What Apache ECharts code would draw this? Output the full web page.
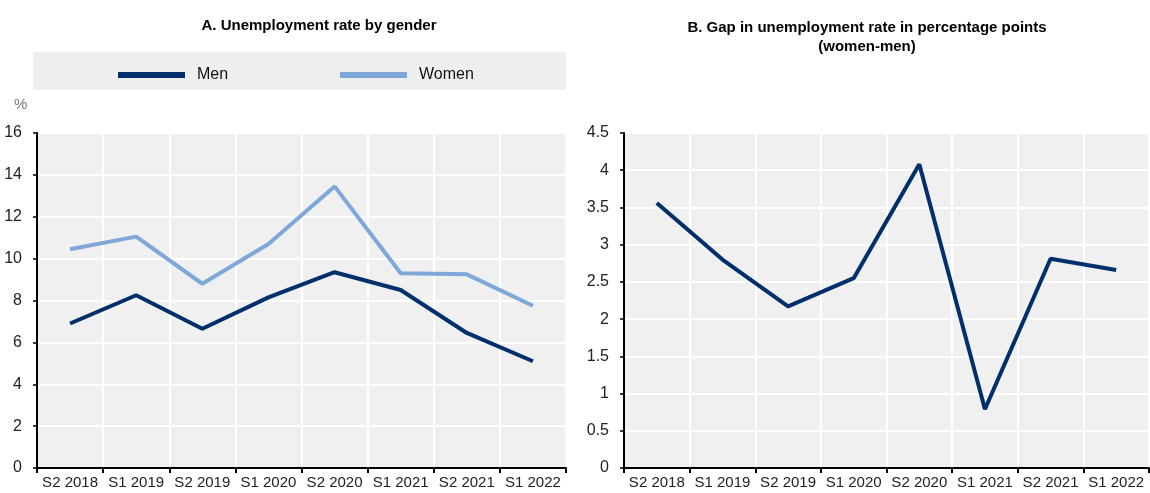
<!DOCTYPE html>
<html><head><meta charset="utf-8">
<script src="https://cdn.jsdelivr.net/npm/echarts@6/dist/echarts.min.js"></script>
<style>html,body{margin:0;padding:0;background:#fff}#c{width:1150px;height:493px}</style>
</head><body><div id="c"></div>
<script>
const categories = ['S2 2018','S1 2019','S2 2019','S1 2020','S2 2020','S1 2021','S2 2021','S1 2022'];
const men = [6.9, 8.25, 6.65, 8.15, 9.35, 8.5, 6.45, 5.1];
const women = [10.45, 11.05, 8.8, 10.7, 13.45, 9.3, 9.25, 7.75];
const gap = [3.56, 2.8, 2.17, 2.55, 4.08, 0.79, 2.81, 2.66];
const leftTicks = [0, 16, 2];
const rightTicks = [0, 4.5, 0.5];

const FONT = '"Liberation Sans Narrow","Arial Narrow","Liberation Sans",sans-serif';
const DARK = '#002F6C', LIGHT = '#7FA8D9';

function xAxis(gi){
  return {type:'category', gridIndex:gi, data:categories, boundaryGap:true,
    axisLine:{lineStyle:{color:'#000',width:2}},
    axisTick:{show:true,length:5,interval:0,lineStyle:{color:'#000',width:2}},
    axisLabel:{interval:0,margin:7,color:'#222',fontFamily:FONT,fontSize:15},
    splitLine:{show:true,interval:0,lineStyle:{color:'#fff',width:2}}};
}
function yAxis(gi,t){
  return {type:'value', gridIndex:gi, min:t[0], max:t[1], interval:t[2],
    axisLine:{show:true,lineStyle:{color:'#000',width:2}},
    axisTick:{show:true,length:4,lineStyle:{color:'#000',width:1.5}},
    axisLabel:{margin:15,color:'#222',fontFamily:FONT,fontSize:16},
    splitLine:{show:true,lineStyle:{color:'#fff',width:2}}};
}
const chart = echarts.init(document.getElementById('c'), null, {renderer:'canvas'});
chart.setOption({
  animation:false,
  textStyle:{fontFamily:FONT},
  title:[
    {text:'A. Unemployment rate by gender', left:314, top:13, textAlign:'center',
     textStyle:{fontFamily:FONT,fontSize:15,fontWeight:'bold',color:'#000'}},
    {text:'B. Gap in unemployment rate in percentage points\n(women-men)', left:862, top:13, textAlign:'center',
     textStyle:{fontFamily:FONT,fontSize:15,fontWeight:'bold',color:'#000',lineHeight:19}}
  ],
  graphic:[
    {type:'rect', shape:{x:33,y:52,width:533,height:38}, style:{fill:'#efefef'}, silent:true, z:-1},
    {type:'text', left:14, top:97, style:{text:'%', fill:'#777', font:'15px '+FONT}}
  ],
  legend:[
    {data:['Men'], left:113, top:62, itemWidth:67, itemHeight:6, icon:'rect', itemGap:0,
     textStyle:{fontFamily:FONT,fontSize:16,color:'#111',padding:[0,0,0,7]}},
    {data:['Women'], left:335, top:62, itemWidth:67, itemHeight:6, icon:'rect',
     textStyle:{fontFamily:FONT,fontSize:16,color:'#111',padding:[0,0,0,7]}}
  ],
  grid:[
    {left:37, right:584, top:133, bottom:25, show:true, backgroundColor:'#f0f0f0', borderWidth:0},
    {left:624, right:1, top:133, bottom:25, show:true, backgroundColor:'#f0f0f0', borderWidth:0}
  ],
  xAxis:[xAxis(0), xAxis(1)],
  yAxis:[yAxis(0,leftTicks), yAxis(1,rightTicks)],
  series:[
    {name:'Men', type:'line', xAxisIndex:0, yAxisIndex:0, data:men, showSymbol:false, symbol:'none',
     lineStyle:{color:DARK,width:4}, itemStyle:{color:DARK}},
    {name:'Women', type:'line', xAxisIndex:0, yAxisIndex:0, data:women, showSymbol:false, symbol:'none',
     lineStyle:{color:LIGHT,width:4}, itemStyle:{color:LIGHT}},
    {name:'Gap', type:'line', xAxisIndex:1, yAxisIndex:1, data:gap, showSymbol:false, symbol:'none',
     lineStyle:{color:DARK,width:4}, itemStyle:{color:DARK}}
  ]
});
</script></body></html>
